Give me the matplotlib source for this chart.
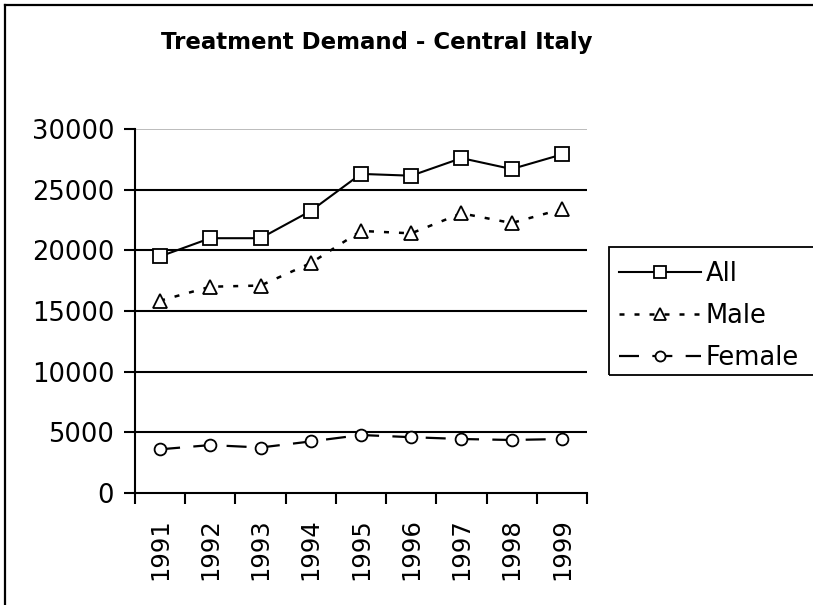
import matplotlib
matplotlib.use('Agg')
import matplotlib.pyplot as plt
from matplotlib.lines import Line2D
from matplotlib.patches import Rectangle

years = ['1991', '1992', '1993', '1994', '1995', '1996', '1997', '1998', '1999']
all_vals = [19500, 21000, 21000, 23250, 26300, 26150, 27600, 26700, 27900]
male_vals = [15850, 17000, 17100, 18950, 21600, 21400, 23050, 22250, 23400]
female_vals = [3600, 3950, 3750, 4250, 4780, 4600, 4450, 4370, 4450]

plt.rcParams['font.family'] = ['DejaVu Sans']

W, H = 813, 605
fig = plt.figure(figsize=(W / 100, H / 100), dpi=100)

# outer chart border (right and bottom edges are cropped off in the original)
fig.lines.append(Line2D([5 / W, 5 / W], [0, 1 - 5 / H], transform=fig.transFigure, color='black', linewidth=1.6))
fig.lines.append(Line2D([5 / W, 1], [1 - 5 / H, 1 - 5 / H], transform=fig.transFigure, color='black', linewidth=1.6))

ax = fig.add_axes([135 / W, 1 - 493 / H, (587 - 135) / W, (493 - 129) / H])
x = list(range(len(years)))

# gridlines
for v in [5000, 10000, 15000, 20000, 25000]:
    ax.axhline(v, color='black', linewidth=1.5, zorder=1)
ax.axhline(30000, color='#b0b0b0', linewidth=1.2, zorder=1)

ax.plot(x, all_vals, color='black', linewidth=1.5, marker='s', markersize=9.5,
        markerfacecolor='white', markeredgecolor='black', markeredgewidth=1.3, label='All', zorder=3)
ax.plot(x, male_vals, color='black', linewidth=1.8, linestyle=(0, (2, 4)), marker='^', markersize=10,
        markerfacecolor='white', markeredgecolor='black', markeredgewidth=1.3, label='Male', zorder=3)
ax.plot(x, female_vals, color='black', linewidth=1.6, linestyle=(0, (9, 6)), marker='o', markersize=8.5,
        markerfacecolor='white', markeredgecolor='black', markeredgewidth=1.3, label='Female', zorder=3)

ax.set_xlim(-0.5, len(years) - 0.5)
ax.set_ylim(0, 30000)
ax.set_yticks([0, 5000, 10000, 15000, 20000, 25000, 30000])
ax.set_yticklabels(['0', '5000', '10000', '15000', '20000', '25000', '30000'], fontsize=18.5)
ax.set_xticks(x)
ax.set_xticklabels(years, rotation=90, fontsize=17.5)
ax.set_xticks([i - 0.5 for i in range(len(years) + 1)], minor=True)
ax.tick_params(axis='x', which='major', length=0, pad=18)
ax.tick_params(axis='x', which='minor', length=8, width=1.5, direction='out')
ax.tick_params(axis='y', length=8, width=1.5, direction='out', pad=7)

for s in ['top', 'right']:
    ax.spines[s].set_visible(False)
for s in ['left', 'bottom']:
    ax.spines[s].set_linewidth(1.5)

fig.text(377 / W, 1 - 48.5 / H, 'Treatment Demand - Central Italy', ha='center', va='baseline',
         fontsize=16.5, fontweight='bold')

# legend box, right edge runs off the picture like the original
fig.patches.append(Rectangle((609 / W, 1 - 375 / H), 220 / W, 128 / H, transform=fig.transFigure,
                             fill=False, edgecolor='black', linewidth=1.3))
handles, labels = ax.get_legend_handles_labels()
leg = fig.legend(handles, labels, loc='upper left', bbox_to_anchor=(616 / W, 1 - 258 / H),
                 fontsize=18.5, frameon=False, handlelength=3.2, handletextpad=0.2,
                 borderpad=0.1, labelspacing=0.63, borderaxespad=0, markerscale=0.85)

fig.savefig('out.png', dpi=100)
